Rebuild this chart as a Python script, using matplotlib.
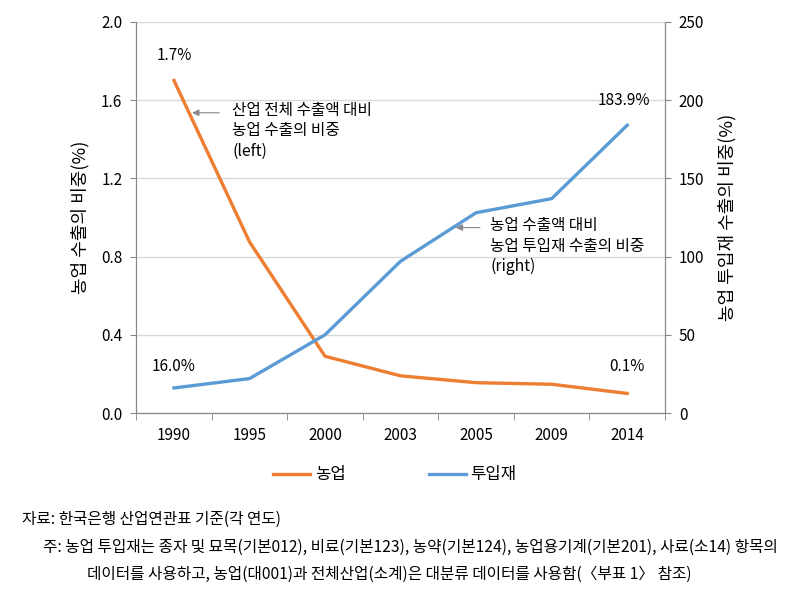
import numpy as np
import matplotlib.pyplot as plt

plt.rcParams['font.family'] = ['Noto Sans CJK KR', 'DejaVu Sans']

# data
years = ['1990', '1995', '2000', '2003', '2005', '2009', '2014']
agri_share = [1.70, 0.875, 0.29, 0.19, 0.155, 0.147, 0.10]   # left axis, %
input_share = [16.0, 22.0, 50.0, 97.0, 128.0, 137.0, 183.9]  # right axis, %

orange = '#ED7D31'
blue = '#5B9BD5'
grey = '#888888'

fig = plt.figure(figsize=(8.06, 5.90), dpi=100)
ax = fig.add_axes([0.169, 0.30, 0.656, 0.663])
ax2 = ax.twinx()

x = np.arange(len(years))
l1, = ax.plot(x, agri_share, color=orange, lw=2.4, label='농업', zorder=3)
l2, = ax2.plot(x, input_share, color=blue, lw=2.4, label='투입재', zorder=3)

ax.set_xlim(-0.5, len(years) - 0.5)
ax.set_ylim(0, 2.0)
ax.set_yticks(np.arange(0, 2.01, 0.4))
ax.set_yticklabels([f'{v:.1f}' for v in np.arange(0, 2.01, 0.4)])
ax2.set_ylim(0, 250)
ax2.set_yticks(np.arange(0, 251, 50))

ax.set_xticks(x)
ax.set_xticklabels(years)
ax.set_xticks(np.arange(-0.5, len(years)), minor=True)
ax.tick_params(axis='x', which='major', length=0, pad=10, labelsize=11)
ax.tick_params(axis='x', which='minor', length=5, color=grey, direction='out')
ax.tick_params(axis='y', length=4, color=grey, labelsize=11, pad=6)
ax2.tick_params(axis='y', length=4, color=grey, labelsize=11, pad=6)

ax.grid(axis='y', color='#d9d9d9', lw=1)
for a in (ax, ax2):
    a.spines['top'].set_visible(False)
    for s in ('left', 'right', 'bottom'):
        a.spines[s].set_color(grey)

ax.set_ylabel('농업 수출의 비중(%)', fontsize=13, labelpad=8)
ax2.set_ylabel('농업 투입재 수출의 비중(%)', fontsize=13, rotation=90, labelpad=10)

# value labels
ax.text(x[0], 1.83, f'{agri_share[0]:.1f}%', ha='center', va='center', fontsize=11)
ax.text(x[-1], 0.24, f'{agri_share[-1]:.1f}%', ha='center', va='center', fontsize=11)
ax2.text(x[0], 30.0, f'{input_share[0]:.1f}%', ha='center', va='center', fontsize=11)
ax2.text(x[-1] - 0.05, 200, f'{input_share[-1]:.1f}%', ha='center', va='center', fontsize=11)

# callouts
arrow = dict(arrowstyle='-|>', color=grey, lw=0.8, shrinkA=0, shrinkB=0,
             mutation_scale=10)
ax.text(0.77, 1.59, '산업 전체 수출액 대비\n농업 수출의 비중\n(left)',
        fontsize=11.3, va='top', ha='left', linespacing=1.25)
ax.annotate('', xy=(0.24, 1.535), xytext=(0.6, 1.535), arrowprops=arrow)
ax2.text(4.19, 125, '농업 수출액 대비\n농업 투입재 수출의 비중\n(right)',
         fontsize=11.3, va='top', ha='left', linespacing=1.25)
ax2.annotate('', xy=(3.73, 118.5), xytext=(4.05, 118.5), arrowprops=arrow)

fig.legend(handles=[l1, l2], loc='center', bbox_to_anchor=(0.49, 0.195),
           ncol=2, frameon=False, fontsize=12, handlelength=2.2,
           columnspacing=5, handletextpad=0.3)

fig.text(0.027, 0.12, '자료: 한국은행 산업연관표 기준(각 연도)', fontsize=11.3, va='center')
fig.text(0.053, 0.072, '주: 농업 투입재는 종자 및 묘목(기본012), 비료(기본123), 농약(기본124), '
         '농업용기계(기본201), 사료(소14) 항목의', fontsize=11.3, va='center')
fig.text(0.108, 0.027, '데이터를 사용하고, 농업(대001)과 전체산업(소계)은 대분류 데이터를 '
         '사용함(〈부표 1〉 참조)', fontsize=11.3, va='center')

fig.savefig('out.png', dpi=100)
